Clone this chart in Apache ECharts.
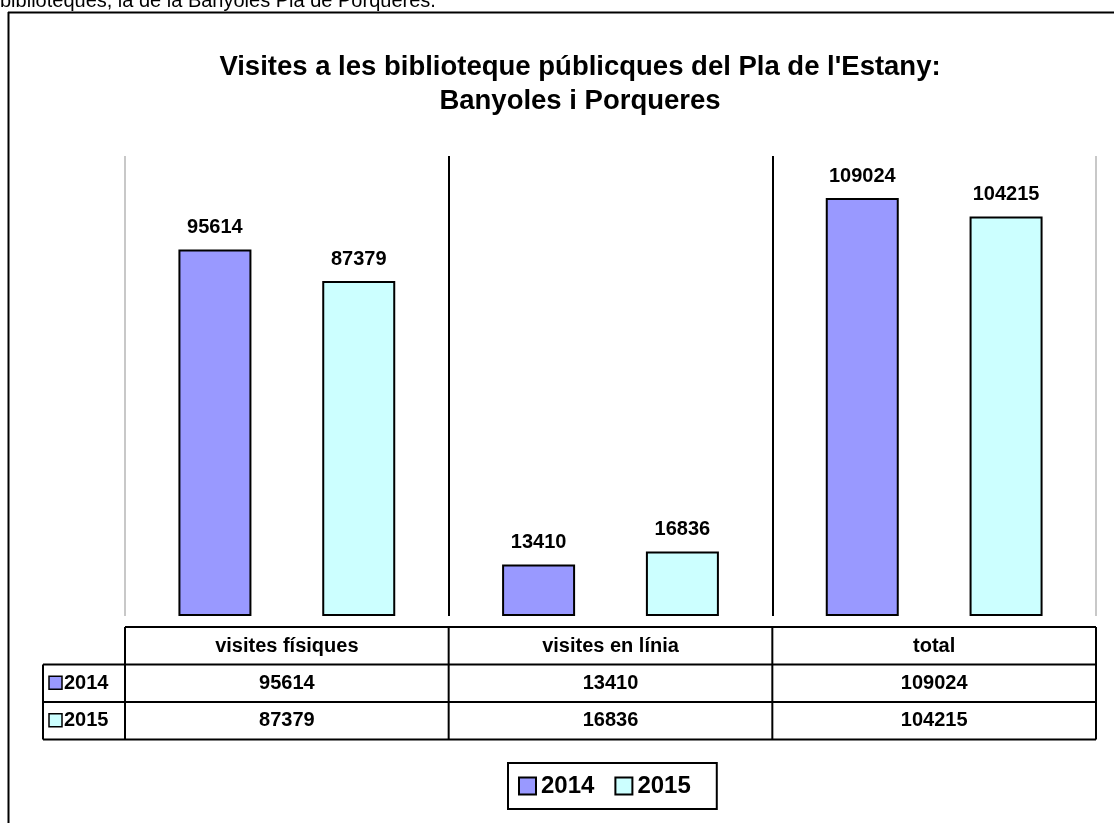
<!DOCTYPE html>
<html>
<head>
<meta charset="utf-8">
<script src="https://cdn.jsdelivr.net/npm/echarts@6/dist/echarts.min.js"></script>
<style>
  html, body { margin: 0; padding: 0; background: #fff; }
  #main { width: 1114px; height: 823px; }
</style>
</head>
<body>
<div id="main"></div>
<script>
// categories and values
const categories = ['visites físiques', 'visites en línia', 'total'];
const years = ['2014', '2015'];
const visits2014 = [95614, 13410, 109024];
const visits2015 = [87379, 16836, 104215];
const colors = ['#9999FF', '#CCFFFF'];

const font = 'Liberation Sans, Arial, sans-serif';

var chart = echarts.init(document.getElementById('main'));

function barSeries(name, data, color) {
  return {
    name: name,
    type: 'bar',
    data: data,
    barWidth: 73,
    barGap: '97%',
    itemStyle: { color: color, borderColor: '#000', borderWidth: 2 },
    label: {
      show: true,
      position: 'top',
      distance: 12,
      color: '#000',
      fontFamily: font,
      fontWeight: 'bold',
      fontSize: 20
    }
  };
}

var option = {
  animation: false,
  backgroundColor: '#fff',
  title: {
    text: "Visites a les biblioteque públicques del Pla de l'Estany:\nBanyoles i Porqueres",
    left: 575,
    top: 45,
    textAlign: 'center',
    textStyle: { fontFamily: font, fontWeight: 'bold', fontSize: 27.5, lineHeight: 34, color: '#000' }
  },
  legend: {
    data: years,
    left: 508,
    top: 763,
    icon: 'rect',
    itemWidth: 17,
    itemHeight: 17,
    itemGap: 20,
    padding: [11, 26, 11, 10],
    borderColor: '#000',
    borderWidth: 2,
    textStyle: { fontFamily: font, fontWeight: 'bold', fontSize: 24, color: '#000' }
  },
  grid: { left: 125, right: 18, top: 156, bottom: 207, containLabel: false },
  xAxis: {
    type: 'category',
    data: categories,
    axisLine: { show: false },
    axisTick: { show: false },
    axisLabel: {
      margin: 20,
      color: '#000',
      fontFamily: font,
      fontWeight: 'bold',
      fontSize: 20
    },
    splitLine: {
      show: true,
      lineStyle: { color: ['#c8c8c8', '#000', '#000', '#c8c8c8'], width: 2 }
    }
  },
  yAxis: {
    type: 'value',
    min: 0,
    max: 120000,
    show: false,
    splitLine: { show: false }
  },
  series: [
    barSeries(years[0], visits2014, colors[0]),
    barSeries(years[1], visits2015, colors[1])
  ]
};

chart.setOption(option);

// data table under the plot, columns follow the category axis
var c0 = chart.convertToPixel({ xAxisIndex: 0 }, 0);
var c1 = chart.convertToPixel({ xAxisIndex: 0 }, 1);
var band = c1 - c0;
var colLeft = c0 - band / 2;
var colRight = colLeft + band * categories.length;
var headTop = 627, rowH = 37.5, labelLeft = 43;
var rows = [visits2014, visits2015];

var g = [];
var line = function (x1, y1, x2, y2) {
  g.push({ type: 'line', shape: { x1: x1, y1: y1, x2: x2, y2: y2 }, style: { stroke: '#000', lineWidth: 2 }, z: 10 });
};
line(colLeft, headTop, colRight, headTop);
var tableBottom = headTop + rowH * 3;
for (var r = 1; r <= 3; r++) {
  line(labelLeft, headTop + rowH * r, colRight, headTop + rowH * r);
}
line(labelLeft, headTop + rowH, labelLeft, tableBottom);
for (var c = 0; c <= categories.length; c++) {
  line(colLeft + band * c, headTop, colLeft + band * c, tableBottom);
}
rows.forEach(function (vals, i) {
  var cy = headTop + rowH * (i + 1) + rowH / 2;
  g.push({ type: 'rect', shape: { x: 49, y: cy - 7, width: 13, height: 13 },
    style: { fill: colors[i], stroke: '#000', lineWidth: 1.5 }, z: 10 });
  g.push({ type: 'text', x: 64, y: cy, style: { text: years[i], font: 'bold 20px ' + font, fill: '#000', verticalAlign: 'middle' }, z: 10 });
  vals.forEach(function (v, j) {
    g.push({ type: 'text', x: colLeft + band * j + band / 2, y: cy,
      style: { text: String(v), font: 'bold 20px ' + font, fill: '#000', align: 'center', verticalAlign: 'middle' }, z: 10 });
  });
});
// page text cut off at the top and the frame around the chart
g.push({ type: 'text', x: 0, y: 1, style: { text: 'biblioteques, la de la Banyoles Pla de Porqueres.', font: '20px ' + font, fill: '#000', verticalAlign: 'middle' } });
line(8, 12.5, 1114, 12.5);
line(8.5, 12, 8.5, 823);

chart.setOption({ graphic: g });
</script>
</body>
</html>
